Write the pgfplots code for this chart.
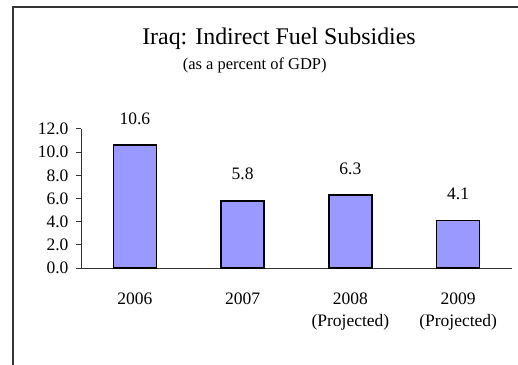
\documentclass[border=0pt]{standalone}
\usepackage{fontspec}
\setmainfont{Liberation Serif}
\usepackage{pgfplots}
\pgfplotsset{compat=1.18}
\definecolor{barfill}{HTML}{9999FF}
\definecolor{axisgray}{HTML}{333333}

\begin{document}
\begin{tikzpicture}
% page area
\clip (0pt,0pt) rectangle (518pt,364pt);
\fill[white] (0pt,0pt) rectangle (518pt,364pt);
% outer chart frame
\draw[line width=1.4pt, axisgray] (13pt,-20pt) -- (13pt,357pt) -- (540pt,357pt);

% titles
\node[anchor=base, font=\fontsize{23.9}{28}\selectfont, inner sep=0pt] at (279pt,319pt)
  {Iraq: Indirect Fuel Subsidies};
\node[anchor=base, font=\fontsize{16.5}{20}\selectfont, inner sep=0pt] at (254.7pt,294pt)
  {(as a percent of GDP)};

\begin{axis}[
  at={(81pt,96pt)}, anchor=south west,
  scale only axis, width=431pt, height=139pt,
  xmin=-0.5, xmax=3.5, ymin=0, ymax=12,
  axis x line*=bottom, axis y line*=left,
  axis line style={axisgray, line width=1pt},
  tick align=outside,
  major tick length=5pt, minor tick length=7pt,
  xtick={0,1,2,3},
  xticklabels={2006, 2007, {2008\\(Projected)}, {2009\\(Projected)}},
  xtick style={draw=none},
  minor xtick={-0.5,0.5,1.5,2.5,3.5},
  minor tick style={axisgray, line width=1pt},
  ytick={0,2,4,6,8,10,12},
  ytick style={axisgray, line width=1pt},
  /pgf/number format/assume math mode=true,
  yticklabel style={/pgf/number format/fixed, /pgf/number format/fixed zerofill,
    /pgf/number format/precision=1},
  y tick label style={font=\fontsize{17.5}{21}\selectfont, xshift=-4pt},
  x tick label style={font=\fontsize{17.5}{22}\selectfont, align=center, anchor=north, yshift=-16pt},
  ybar, bar width=43pt,
  nodes near coords,
  nodes near coords style={/pgf/number format/fixed, /pgf/number format/fixed zerofill,
    /pgf/number format/precision=1},
  every node near coord/.append style={font=\fontsize{17.5}{21}\selectfont, anchor=base, yshift=21pt, inner sep=0pt},
]
\addplot[fill=barfill, draw=black, line width=1.6pt] coordinates {
  (0,10.6) (1,5.8) (2,6.3) (3,4.1)
};
\end{axis}
\end{tikzpicture}
\end{document}
